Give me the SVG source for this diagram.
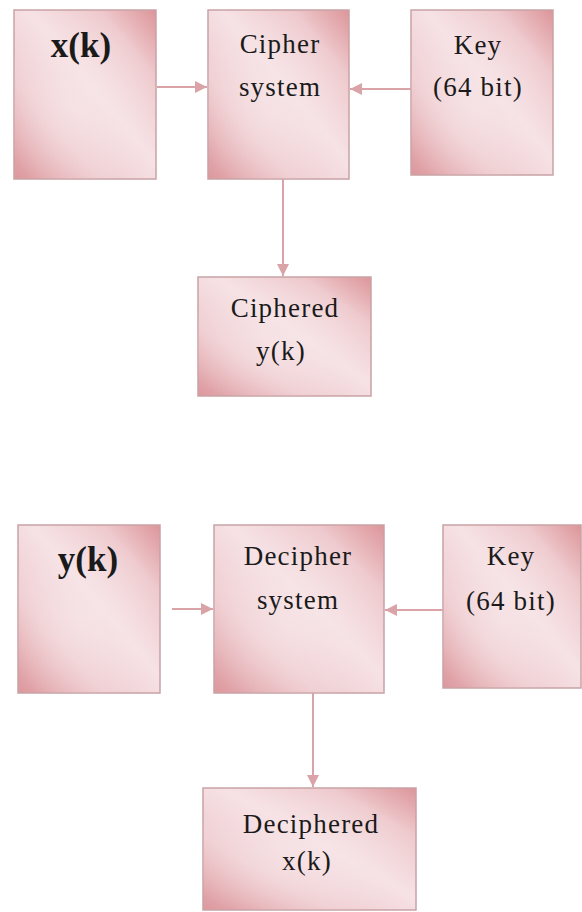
<svg xmlns="http://www.w3.org/2000/svg" width="582" height="912" viewBox="0 0 582 912">
  <defs>
    <!-- rose fill: dark corners fading to a pale centre -->
    <linearGradient id="rose" x1="0" y1="1" x2="1" y2="0">
      <stop offset="0" stop-color="#dc979c"/>
      <stop offset="0.3" stop-color="#efcdd1"/>
      <stop offset="0.55" stop-color="#f6e2e5"/>
      <stop offset="0.8" stop-color="#eec9cd"/>
      <stop offset="1" stop-color="#dc9599"/>
    </linearGradient>
    <radialGradient id="glow" cx="0.45" cy="0.55" r="0.55">
      <stop offset="0" stop-color="#f7e6e8" stop-opacity="0.7"/>
      <stop offset="1" stop-color="#f7e6e8" stop-opacity="0"/>
    </radialGradient>
    <marker id="head" viewBox="0 0 10 10" refX="10" refY="5" markerWidth="6" markerHeight="6" orient="auto" markerUnits="strokeWidth">
      <path d="M0,0 L10,5 L0,10 z" fill="#d9a3a7"/>
    </marker>
  </defs>
  <style>
    .box { fill: url(#rose); stroke: #c9a2a5; stroke-width: 1.5; }
    .glow { fill: url(#glow); stroke: none; }
    .t { font-family: "Liberation Serif", "Times New Roman", serif; font-size: 27px; fill: #1a1a1a; text-anchor: middle; letter-spacing: 1.2px; }
    .big { font-family: "Liberation Serif", "Times New Roman", serif; font-size: 35px; font-weight: bold; fill: #1a1a1a; text-anchor: middle; }
    .wire { stroke: #d9a3a7; stroke-width: 2; fill: none; marker-end: url(#head); }
  </style>

  <rect width="582" height="912" fill="#ffffff"/>

  <!-- encryption stage -->
  <g id="xk">
    <rect class="box" x="14" y="10" width="142" height="169"/>
    <rect class="glow" x="14" y="10" width="142" height="169"/>
    <text class="big" x="81" y="57">x(k)</text>
  </g>
  <g id="cipher">
    <rect class="box" x="208" y="10" width="141" height="169"/>
    <rect class="glow" x="208" y="10" width="141" height="169"/>
    <text class="t" x="280" y="53">Cipher</text>
    <text class="t" x="280" y="96">system</text>
  </g>
  <g id="key1">
    <rect class="box" x="411" y="10" width="142" height="165"/>
    <rect class="glow" x="411" y="10" width="142" height="165"/>
    <text class="t" x="478" y="54">Key</text>
    <text class="t" x="478" y="96">(64 bit)</text>
  </g>
  <g id="ciphered">
    <rect class="box" x="198" y="277" width="173" height="119"/>
    <rect class="glow" x="198" y="277" width="173" height="119"/>
    <text class="t" x="285" y="317">Ciphered</text>
    <text class="t" x="281" y="360">y(k)</text>
  </g>

  <!-- decryption stage -->
  <g id="yk">
    <rect class="box" x="18" y="525" width="142" height="168"/>
    <rect class="glow" x="18" y="525" width="142" height="168"/>
    <text class="big" x="88" y="571">y(k)</text>
  </g>
  <g id="decipher">
    <rect class="box" x="214" y="525" width="170" height="168"/>
    <rect class="glow" x="214" y="525" width="170" height="168"/>
    <text class="t" x="298" y="565">Decipher</text>
    <text class="t" x="298" y="609">system</text>
  </g>
  <g id="key2">
    <rect class="box" x="443" y="525" width="138" height="163"/>
    <rect class="glow" x="443" y="525" width="138" height="163"/>
    <text class="t" x="511" y="565">Key</text>
    <text class="t" x="511" y="610">(64 bit)</text>
  </g>
  <g id="deciphered">
    <rect class="box" x="203" y="788" width="213" height="122"/>
    <rect class="glow" x="203" y="788" width="213" height="122"/>
    <text class="t" x="311" y="833">Deciphered</text>
    <text class="t" x="307" y="870">x(k)</text>
  </g>

  <!-- connectors -->
  <g id="connectors">
    <line class="wire" x1="157" y1="87" x2="207" y2="87"/>
    <line class="wire" x1="411" y1="89" x2="350" y2="89"/>
    <line class="wire" x1="283" y1="179" x2="283" y2="276"/>
    <line class="wire" x1="172" y1="609" x2="213" y2="609"/>
    <line class="wire" x1="443" y1="610" x2="385" y2="610"/>
    <line class="wire" x1="313" y1="693" x2="313" y2="787"/>
  </g>
</svg>
